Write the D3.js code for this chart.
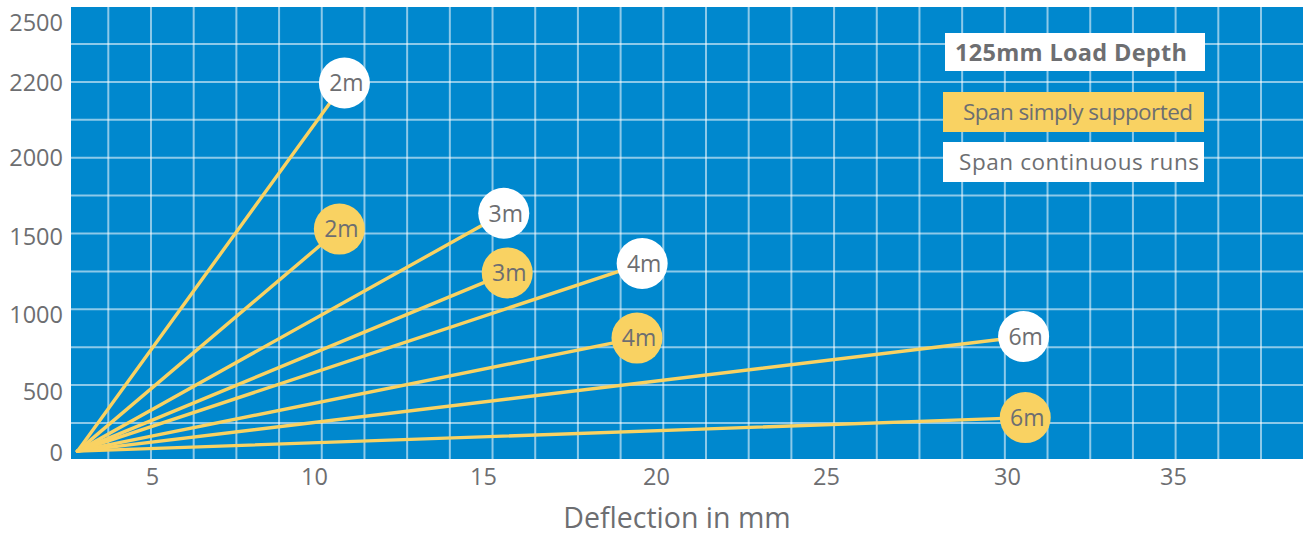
<!DOCTYPE html>
<html>
<head>
<meta charset="utf-8">
<script src="https://cdn.jsdelivr.net/npm/d3@7"></script>
<style>
  body { margin: 0; background: #ffffff; }
  svg { display: block; }
  text { font-family: "Open Sans", "Noto Sans", sans-serif; }
</style>
</head>
<body>
<svg id="chart" width="1303" height="536"></svg>
<script>
// Span lengths, one line per span for each support case
const spans = ["2m", "3m", "4m", "6m"];

// Continuous runs (white markers): deflection in mm and load
const continuousDeflection = [10.9, 15.6, 19.6, 30.5];
const continuousLoad = [2200, 1650, 1330, 860];

// Simply supported (yellow markers): deflection in mm and load
const simpleDeflection = [10.75, 15.7, 19.45, 30.55];
const simpleLoad = [1550, 1270, 850, 290];

// Common starting point of every line
const originDeflection = 2.7;
const originLoad = 15;

// Axis tick labels
const xTicks = [5, 10, 15, 20, 25, 30, 35];
const yTicks = [0, 500, 1000, 1500, 2000, 2200, 2500];

const legendTitle = "125mm Load Depth";
const legendItems = ["Span simply supported", "Span continuous runs"];
const xTitle = "Deflection in mm";

// ---- styling ----
const BLUE = "#0088ce";
const YELLOW = "#f9d262";
const GREY = "#6d6e71";
const GRID = "rgba(255,255,255,0.55)";

const svg = d3.select("#chart");

const panel = { left: 71, top: 7, right: 1303, bottom: 459 };

// Tick positions on this sheet are hand-spaced, so both axes use piecewise scales
const x = d3.scaleLinear()
  .domain(xTicks)
  .range([152, 314, 483, 656, 826, 1007, 1173]);

const y = d3.scaleLinear()
  .domain(yTicks)
  .range([453, 392, 315, 237, 158, 83, 23]);

// background panel
svg.append("rect")
  .attr("x", panel.left).attr("y", panel.top)
  .attr("width", panel.right - panel.left)
  .attr("height", panel.bottom - panel.top)
  .attr("fill", BLUE);

// regular graph-paper grid over the panel
const gridCols = d3.scaleLinear().domain([0, 27]).range([108.3, 1261]);
const gridRows = d3.scaleLinear().domain([0, 10]).range([44, 423]);

const grid = svg.append("g").attr("stroke", GRID).attr("stroke-width", 2);
grid.selectAll("line.v")
  .data(d3.range(0, 28))
  .join("line")
  .attr("class", "v")
  .attr("x1", d => gridCols(d)).attr("x2", d => gridCols(d))
  .attr("y1", panel.top).attr("y2", panel.bottom);
grid.selectAll("line.h")
  .data(d3.range(0, 11))
  .join("line")
  .attr("class", "h")
  .attr("y1", d => gridRows(d)).attr("y2", d => gridRows(d))
  .attr("x1", panel.left).attr("x2", panel.right);

// axes
const yAxis = svg.append("g")
  .attr("transform", `translate(${panel.left},0)`)
  .call(d3.axisLeft(y).tickValues(yTicks).tickSize(0).tickPadding(8).tickFormat(d => String(d)));
yAxis.select(".domain").remove();
yAxis.selectAll("text")
  .attr("fill", GREY)
  .style("font-size", "23.5px")
  .style("font-family", '"Open Sans", sans-serif');

const xAxis = svg.append("g")
  .attr("transform", `translate(0,${panel.bottom})`)
  .call(d3.axisBottom(x).tickValues(xTicks).tickSize(0).tickPadding(9).tickFormat(d => String(d)));
xAxis.select(".domain").remove();
xAxis.selectAll("text")
  .attr("fill", GREY)
  .style("font-size", "23.5px")
  .style("font-family", '"Open Sans", sans-serif');

svg.append("text")
  .attr("x", 677).attr("y", 528)
  .attr("text-anchor", "middle")
  .attr("fill", GREY)
  .style("font-size", "28.5px")
  .text(xTitle);

// series records
const series = [];
spans.forEach((s, i) => {
  series.push({ span: s, kind: "continuous", dx: continuousDeflection[i], load: continuousLoad[i] });
  series.push({ span: s, kind: "simple", dx: simpleDeflection[i], load: simpleLoad[i] });
});

// lines from the common origin
svg.append("g")
  .selectAll("line")
  .data(series)
  .join("line")
  .attr("x1", x(originDeflection)).attr("y1", y(originLoad))
  .attr("x2", d => x(d.dx)).attr("y2", d => y(d.load))
  .attr("stroke", YELLOW)
  .attr("stroke-width", 3.4)
  .attr("stroke-linecap", "round");

// end markers
const marks = svg.append("g")
  .selectAll("g")
  .data(series)
  .join("g")
  .attr("transform", d => `translate(${x(d.dx)},${y(d.load)})`);

marks.append("circle")
  .attr("r", 25.5)
  .attr("fill", d => d.kind === "continuous" ? "#ffffff" : YELLOW);

marks.append("text")
  .attr("x", 2)
  .attr("dy", "0.36em")
  .attr("text-anchor", "middle")
  .attr("fill", GREY)
  .style("font-size", "23px")
  .text(d => d.span);

// legend
const legend = svg.append("g");
legend.append("rect")
  .attr("x", 945).attr("y", 33).attr("width", 260).attr("height", 38)
  .attr("fill", "#ffffff");
legend.append("text")
  .attr("x", 955).attr("y", 61)
  .attr("fill", GREY)
  .style("font-size", "23.5px")
  .style("font-weight", "bold")
  .attr("textLength", 232)
  .attr("lengthAdjust", "spacing")
  .text(legendTitle);

const legendFill = [YELLOW, "#ffffff"];
const legendRowY = [92, 142];
const legendTextX = [963, 959];
const legendTextW = [230, 240];
legendItems.forEach((t, i) => {
  legend.append("rect")
    .attr("x", 943).attr("y", legendRowY[i]).attr("width", 261).attr("height", 40)
    .attr("fill", legendFill[i]);
  legend.append("text")
    .attr("x", legendTextX[i]).attr("y", legendRowY[i] + 28)
    .attr("fill", GREY)
    .style("font-size", "22.5px")
    .attr("textLength", legendTextW[i])
    .attr("lengthAdjust", "spacing")
    .text(t);
});
</script>
</body>
</html>
